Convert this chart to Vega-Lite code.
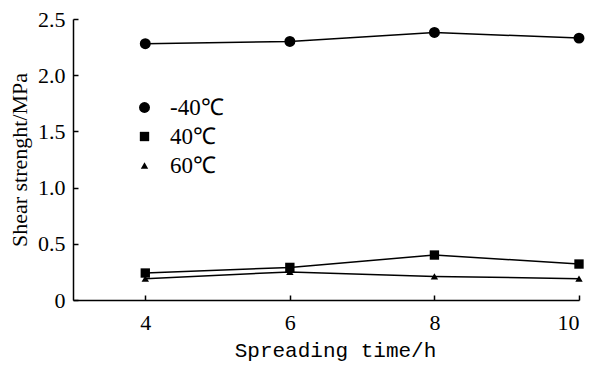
{
  "$schema": "https://vega.github.io/schema/vega-lite/v6.json",
  "autosize": "none",
  "width": 506,
  "height": 281,
  "padding": {"left": 73, "top": 19, "right": 21, "bottom": 66},
  "background": "white",
  "config": {"view": {"stroke": null}, "font": "'Liberation Serif', 'Times New Roman', serif"},
  "data": {"values": [
    {"t": 4, "v": 2.28, "s": "-40℃"},
    {"t": 6, "v": 2.30, "s": "-40℃"},
    {"t": 8, "v": 2.38, "s": "-40℃"},
    {"t": 10, "v": 2.33, "s": "-40℃"},
    {"t": 4, "v": 0.24, "s": "40℃"},
    {"t": 6, "v": 0.29, "s": "40℃"},
    {"t": 8, "v": 0.40, "s": "40℃"},
    {"t": 10, "v": 0.32, "s": "40℃"},
    {"t": 4, "v": 0.19, "s": "60℃"},
    {"t": 6, "v": 0.25, "s": "60℃"},
    {"t": 8, "v": 0.21, "s": "60℃"},
    {"t": 10, "v": 0.19, "s": "60℃"}
  ]},
  "encoding": {
    "x": {"field": "t", "type": "quantitative",
      "scale": {"domain": [3, 10], "nice": false, "zero": false},
      "axis": {"values": [4, 6, 8, 10], "title": "Spreading time/h", "grid": false,
        "domainColor": "black", "domainWidth": 1.5, "tickColor": "black", "tickWidth": 1.5, "tickSize": -5,
        "labelFont": "'Liberation Serif', 'Times New Roman', serif", "labelFontSize": 22, "labelColor": "black", "labelPadding": 17,
        "titleFont": "'Liberation Mono', monospace", "titleFontSize": 21, "titleFontWeight": "normal", "titleColor": "black", "titlePadding": 6, "titleX": 262}},
    "y": {"field": "v", "type": "quantitative",
      "scale": {"domain": [0, 2.5], "nice": false},
      "axis": {"values": [0, 0.5, 1, 1.5, 2, 2.5], "title": "Shear strenght/MPa", "grid": false,
        "labelExpr": "datum.value == 0 ? '0' : format(datum.value, '.1f')",
        "domainColor": "black", "domainWidth": 1.5, "tickColor": "black", "tickWidth": 1.5, "tickSize": -5,
        "labelFont": "'Liberation Serif', 'Times New Roman', serif", "labelFontSize": 22, "labelColor": "black", "labelPadding": 13,
        "titleFont": "'Liberation Serif', 'Times New Roman', serif", "titleFontSize": 22, "titleFontWeight": "normal", "titleColor": "black", "titlePadding": 6}}
  },
  "layer": [
    {"mark": {"type": "line", "color": "black", "strokeWidth": 1.5},
     "encoding": {"detail": {"field": "s"}}},
    {"mark": {"type": "point", "filled": true, "color": "black", "opacity": 1},
     "encoding": {
       "shape": {"field": "s", "type": "nominal",
         "scale": {"domain": ["-40℃", "40℃", "60℃"], "range": ["circle", "square", "triangle-up"]},
         "legend": {"title": null, "orient": "none", "legendX": 60, "legendY": 77,
           "labelFont": "'Liberation Serif', 'Times New Roman', serif", "labelFontSize": 23, "labelColor": "black",
           "rowPadding": 5, "labelOffset": 14, "symbolFillColor": "black", "symbolStrokeColor": "black"}},
       "size": {"field": "s", "type": "nominal",
         "scale": {"domain": ["-40℃", "40℃", "60℃"], "range": [120, 55, 40]},
         "legend": {"title": null, "orient": "none", "legendX": 60, "legendY": 77,
           "labelFont": "'Liberation Serif', 'Times New Roman', serif", "labelFontSize": 23, "labelColor": "black",
           "rowPadding": 5, "labelOffset": 14, "symbolFillColor": "black", "symbolStrokeColor": "black"}}
     }}
  ]
}
